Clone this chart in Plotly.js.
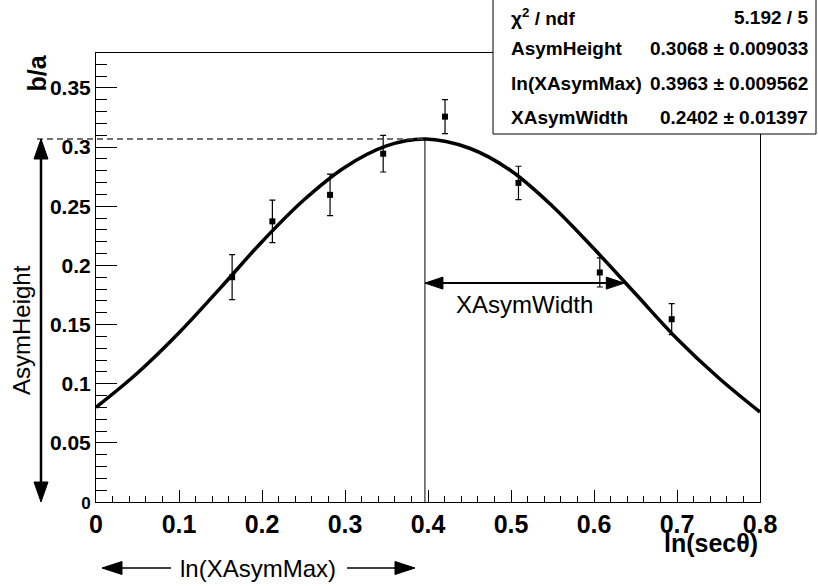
<!DOCTYPE html>
<html><head><meta charset="utf-8">
<script src="https://cdn.plot.ly/plotly-3.0.1.min.js"></script>
<style>html,body{margin:0;padding:0;background:#fff}#chart{width:818px;height:586px}</style>
</head><body><div id="chart"></div>
<script>
// ---- data ----
const pointX   = [0.164, 0.2125, 0.282, 0.346, 0.4205, 0.509, 0.607, 0.6936];
const pointY   = [0.190, 0.2372, 0.2596, 0.2944, 0.3257, 0.2697, 0.194, 0.1545];
const pointErr = [0.019, 0.018, 0.0176, 0.0155, 0.0144, 0.0141, 0.0123, 0.0131];

const curveX = [0, 0.05, 0.1, 0.15, 0.2, 0.25, 0.3, 0.35, 0.3963, 0.45, 0.5, 0.55, 0.6, 0.65, 0.7, 0.75, 0.8];
const curveY = [0.080, 0.109, 0.143, 0.181, 0.220, 0.255, 0.283, 0.301, 0.3068, 0.299, 0.280, 0.250, 0.214, 0.176, 0.138, 0.105, 0.076];

const statNames  = ['χ<sup>2</sup> / ndf', 'AsymHeight', 'ln(XAsymMax)', 'XAsymWidth'];
const statValues = ['5.192 / 5', '0.3068 ± 0.009033', '0.3963 ± 0.009562', '0.2402 ± 0.01397'];

const asymHeight = [0.3068];
const lnXAsymMax = [0.3963];
const xAsymWidth = [0.2402];
const widthArrowY = [0.185];

const xTickVals = [0, 0.1, 0.2, 0.3, 0.4, 0.5, 0.6, 0.7, 0.8];
const xTickText = ['0', '0.1', '0.2', '0.3', '0.4', '0.5', '0.6', '0.7', '0.8'];
const yTickVals = [0, 0.05, 0.1, 0.15, 0.2, 0.25, 0.3, 0.35];
const yTickText = ['<span style="font-size:17px">0</span>', '0.05', '0.1', '0.15', '0.2', '0.25', '0.3', '0.35'];

const xRange = [0, 0.8];
const yRange = [0, 0.3795];

// ---- layout geometry ----
const FW = 818, FH = 586;
const M = {l: 96, r: 58, t: 53, b: 84};
const W = FW - M.l - M.r, H = FH - M.t - M.b;
const fx = x => (x - xRange[0]) / (xRange[1] - xRange[0]);
const fy = y => (y - yRange[0]) / (yRange[1] - yRange[0]);
const pxX = p => (p - M.l) / W;
const pxY = p => (FH - M.b - p) / H;
const dX = p => p / W, dY = p => p / H;

const FONT = 'Liberation Sans, Arial, Helvetica, sans-serif';

function line(x0, y0, x1, y1, w, color, dash) {
  return {type: 'line', xref: 'paper', yref: 'paper', x0, y0, x1, y1, layer: 'above',
          line: {color: color || 'black', width: w, dash: dash || 'solid'}};
}
function head(xp, yp, dir, len, half) {
  let pts;
  if (dir === 'up')    pts = [[xp, yp], [xp - dX(half), yp - dY(len)], [xp + dX(half), yp - dY(len)]];
  if (dir === 'down')  pts = [[xp, yp], [xp - dX(half), yp + dY(len)], [xp + dX(half), yp + dY(len)]];
  if (dir === 'left')  pts = [[xp, yp], [xp + dX(len), yp + dY(half)], [xp + dX(len), yp - dY(half)]];
  if (dir === 'right') pts = [[xp, yp], [xp - dX(len), yp + dY(half)], [xp - dX(len), yp - dY(half)]];
  const path = 'M' + pts.map(p => p[0] + ',' + p[1]).join('L') + 'Z';
  return {type: 'path', xref: 'paper', yref: 'paper', path, layer: 'above',
          fillcolor: 'black', line: {color: 'black', width: 1}};
}

const shapes = [];
const mx = fx(lnXAsymMax[0]), hy = fy(asymHeight[0]);
// vertical line at ln(XAsymMax)
shapes.push(line(mx, 0, mx, hy, 1, 'black'));
// dashed line at AsymHeight
shapes.push(line(pxX(37), hy, mx, hy, 1.5, '#444', '6px,4px'));
// left vertical double arrow (AsymHeight)
const vx = pxX(41);
shapes.push(line(vx, dY(20), vx, hy - dY(20), 2.5));
shapes.push(head(vx, hy, 'up', 20, 7));
shapes.push(head(vx, 0, 'down', 20, 7));
// XAsymWidth arrow
const wy = fy(widthArrowY[0]);
const wx1 = fx(lnXAsymMax[0] + xAsymWidth[0]);
shapes.push(line(mx + dX(18), wy, wx1 - dX(18), wy, 2));
shapes.push(head(mx, wy, 'left', 18, 6));
shapes.push(head(wx1, wy, 'right', 18, 6));
// bottom ln(XAsymMax) arrows
const by = pxY(568);
shapes.push(line(pxX(102) + dX(20), by, pxX(171), by, 1.5));
shapes.push(head(pxX(102), by, 'left', 20, 6.5));
shapes.push(line(pxX(347), by, pxX(415) - dX(20), by, 1.5));
shapes.push(head(pxX(415), by, 'right', 20, 6.5));
// stats box
shapes.push({type: 'rect', xref: 'paper', yref: 'paper', layer: 'above',
  x0: pxX(493), x1: pxX(816), y0: pxY(134), y1: pxY(-3),
  fillcolor: 'white', line: {color: 'black', width: 1}});

const annotations = [];
const rowY = [17, 49, 83, 117];
statNames.forEach((t, i) => {
  annotations.push({xref: 'paper', yref: 'paper', x: pxX(509), y: pxY(rowY[i]), xanchor: 'left', yanchor: 'middle',
    text: t, showarrow: false, font: {family: FONT, size: 19, color: 'black', weight: 'bold'}});
  annotations.push({xref: 'paper', yref: 'paper', x: pxX(810), y: pxY(rowY[i]), xanchor: 'right', yanchor: 'middle',
    text: statValues[i], showarrow: false, font: {family: FONT, size: 19, color: 'black', weight: 'bold'}});
});
// axis titles
annotations.push({xref: 'paper', yref: 'paper', x: pxX(36), y: 1, xanchor: 'center', yanchor: 'top',
  text: 'b/a', textangle: -90, showarrow: false, font: {family: FONT, size: 25, color: 'black', weight: 'bold'}});
annotations.push({xref: 'paper', yref: 'paper', x: 1, y: pxY(543), xanchor: 'right', yanchor: 'middle',
  text: 'ln(secθ)', showarrow: false, font: {family: FONT, size: 25, color: 'black', weight: 'bold'}});
// labels of the construction
annotations.push({xref: 'paper', yref: 'paper', x: pxX(22), y: pxY(330), xanchor: 'center', yanchor: 'middle',
  text: 'AsymHeight', textangle: -90, showarrow: false, font: {family: FONT, size: 24, color: 'black'}});
annotations.push({xref: 'paper', yref: 'paper', x: (mx + wx1) / 2, y: pxY(304), xanchor: 'center', yanchor: 'middle',
  text: 'XAsymWidth', showarrow: false, font: {family: FONT, size: 24, color: 'black'}});
annotations.push({xref: 'paper', yref: 'paper', x: pxX(258), y: by, xanchor: 'center', yanchor: 'middle',
  text: 'ln(XAsymMax)', showarrow: false, font: {family: FONT, size: 24, color: 'black'}});

const traces = [
  {x: curveX, y: curveY, type: 'scatter', mode: 'lines', line: {color: 'black', width: 3.5, shape: 'spline', smoothing: 1}, hoverinfo: 'skip'},
  {x: pointX, y: pointY, type: 'scatter', mode: 'markers',
   marker: {symbol: 'square', size: 6, color: 'black'},
   error_y: {type: 'data', array: pointErr, visible: true, color: 'black', thickness: 1.2, width: 3}}
];

const axisCommon = {
  showgrid: false, zeroline: false, showline: true, linecolor: 'black', linewidth: 1, mirror: true,
  ticks: 'inside', tickcolor: 'black', tickwidth: 1, tickmode: 'array'
};

const layout = {
  width: FW, height: FH, margin: M, showlegend: false,
  paper_bgcolor: 'white', plot_bgcolor: 'white',
  xaxis: Object.assign({}, axisCommon, {range: xRange, tickvals: xTickVals, ticktext: xTickText, ticklen: 12,
    tickfont: {family: FONT, size: 25, color: 'black', weight: 'bold'},
    minor: {tickmode: 'linear', tick0: 0, dtick: 0.02, ticklen: 6, ticks: 'inside', tickcolor: 'black', tickwidth: 1, showgrid: false}}),
  yaxis: Object.assign({}, axisCommon, {range: yRange, tickvals: yTickVals, ticktext: yTickText, ticklen: 21,
    tickfont: {family: FONT, size: 21, color: 'black', weight: 'bold'},
    minor: {tickmode: 'linear', tick0: 0, dtick: 0.01, ticklen: 11, ticks: 'inside', tickcolor: 'black', tickwidth: 1, showgrid: false}}),
  shapes, annotations
};

Plotly.newPlot('chart', traces, layout, {staticPlot: true, displayModeBar: false});
</script>
</body></html>
